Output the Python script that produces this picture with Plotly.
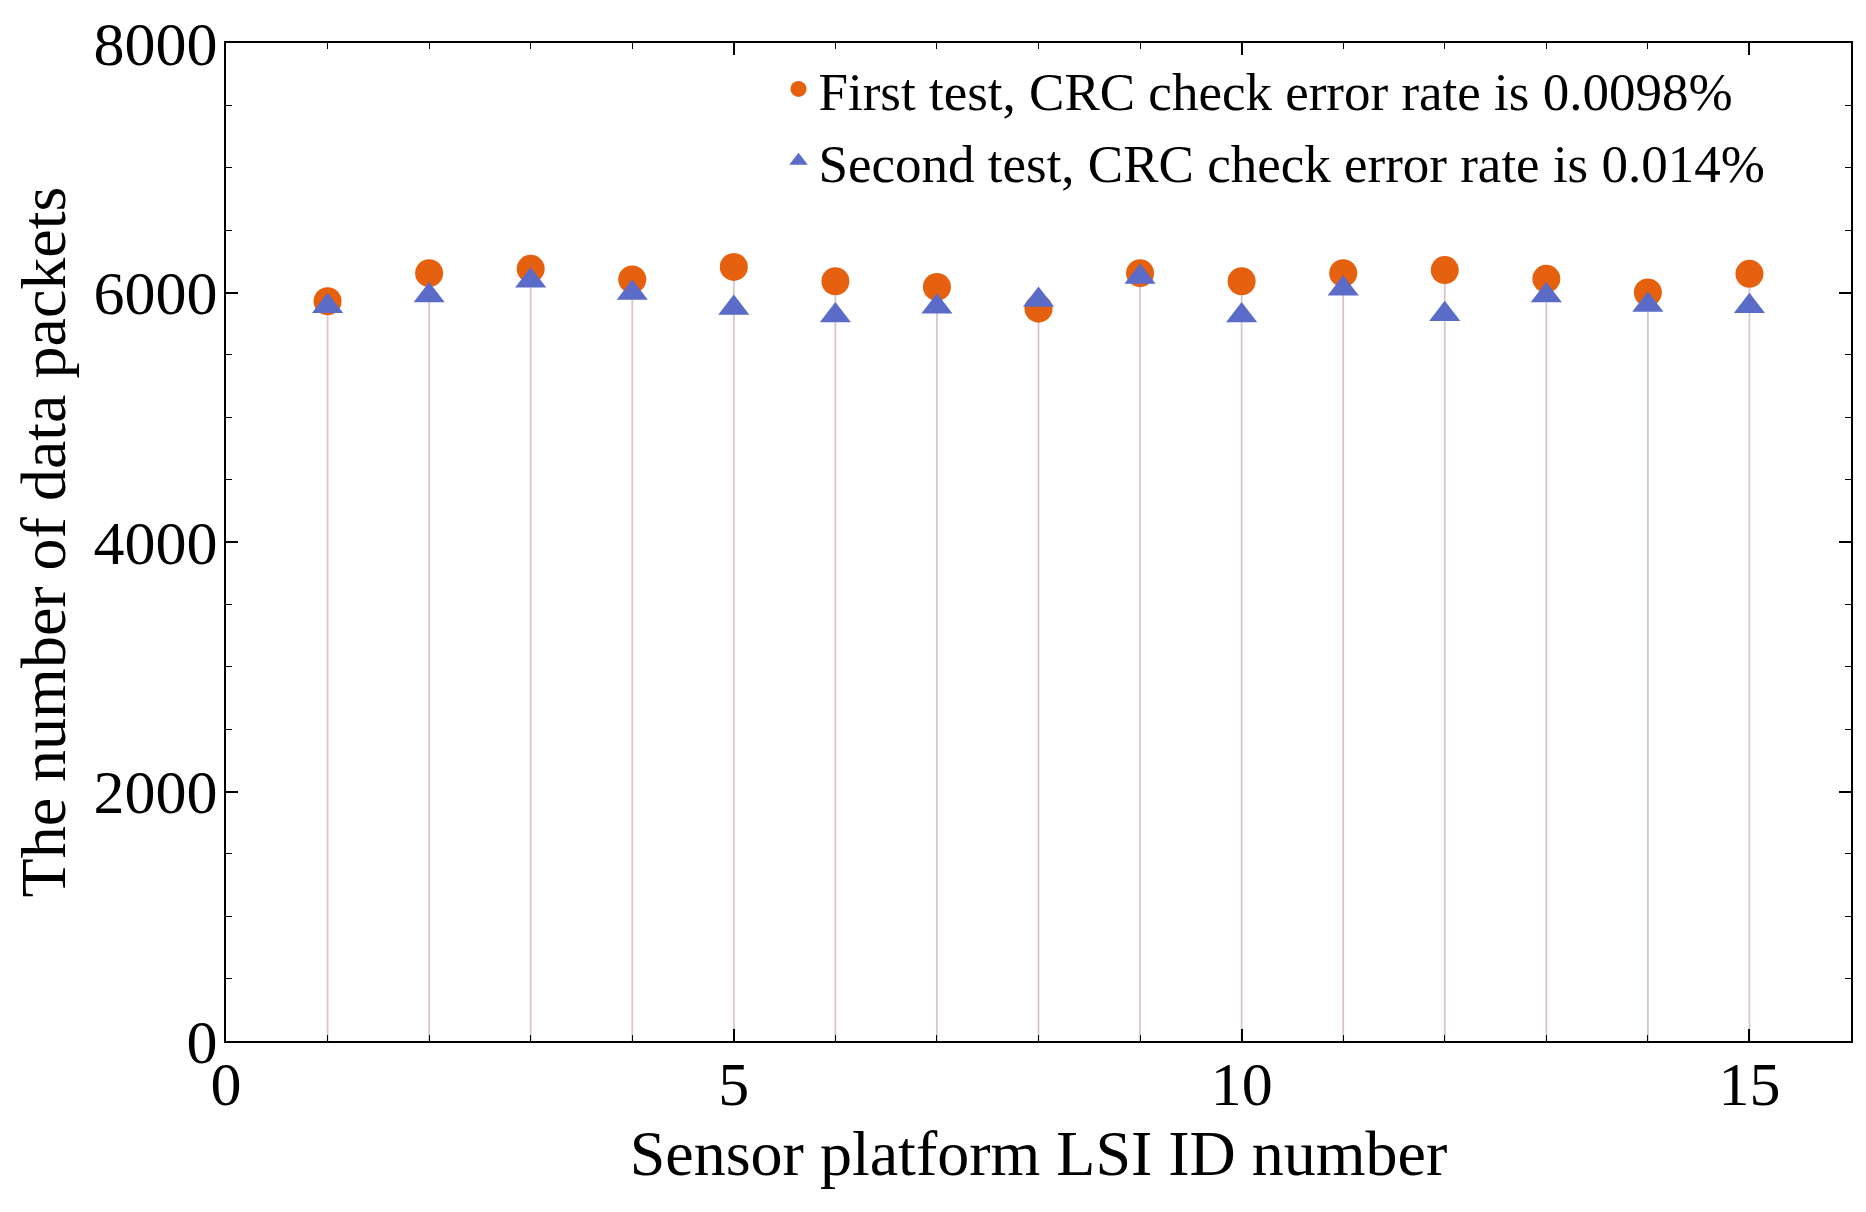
import plotly.graph_objects as go

ids = list(range(1, 16))
first_test = [5930, 6155, 6190, 6105, 6205, 6090, 6045, 5870, 6155, 6090, 6155, 6180, 6110, 6000, 6150]
second_test = [5890, 5975, 6095, 5995, 5875, 5815, 5885, 5940, 6125, 5815, 6030, 5825, 5975, 5900, 5890]

name1 = "First test, CRC check error rate is 0.0098%"
name2 = "Second test, CRC check error rate is 0.014%"

FONT = "Liberation Serif"

fig = go.Figure()

# stems from 0 up to the first-test value
fig.add_trace(go.Scatter(
    x=ids, y=first_test, mode="markers",
    marker=dict(size=0.1, color="rgba(0,0,0,0)"),
    error_y=dict(type="data", symmetric=False, array=[0] * len(ids), arrayminus=first_test,
                 thickness=1.8, width=0, color="#D8C6CC"),
    showlegend=False, hoverinfo="skip"))

fig.add_trace(go.Scatter(
    x=ids, y=first_test, mode="markers", name=name1,
    marker=dict(symbol="circle", size=28, color="#E5600F")))

fig.add_trace(go.Scatter(
    x=ids, y=second_test, mode="markers", name=name2,
    marker=dict(symbol="triangle-up", size=27, color="#5B6BC8")))

axis_common = dict(
    showline=True, linecolor="black", linewidth=2, mirror="ticks",
    ticks="inside", tickcolor="black", tickwidth=1.5, ticklen=12,
    showgrid=False, zeroline=False, automargin=False, ticklabeloverflow="allow",
    tickfont=dict(family=FONT, size=62, color="black"),
)

fig.update_xaxes(range=[0, 16], tickvals=[0, 5, 10, 15], ticklabelstandoff=-12,
                 minor=dict(dtick=1, tick0=0, ticks="inside", ticklen=6, tickcolor="black", tickwidth=1),
                 title=dict(text="Sensor platform LSI ID number", font=dict(family=FONT, size=64, color="black"), standoff=12),
                 **axis_common)
fig.update_yaxes(range=[0, 8000], tickvals=[0, 2000, 4000, 6000, 8000], ticklabelstandoff=-6,
                 minor=dict(dtick=500, tick0=0, ticks="inside", ticklen=6, tickcolor="black", tickwidth=1),
                 title=dict(text="The number of data packets", font=dict(family=FONT, size=64, color="black"), standoff=12),
                 **axis_common)

fig.update_layout(
    width=1866, height=1212,
    margin=dict(l=218, r=23, t=35, b=179),
    plot_bgcolor="white", paper_bgcolor="white",
    font=dict(family=FONT, color="black"),
    legend=dict(x=0.34, y=0.995, xanchor="left", yanchor="top",
                bgcolor="rgba(0,0,0,0)", font=dict(family=FONT, size=53, color="black"),
                tracegroupgap=0, itemwidth=30),
)

fig.write_html("out.html")
